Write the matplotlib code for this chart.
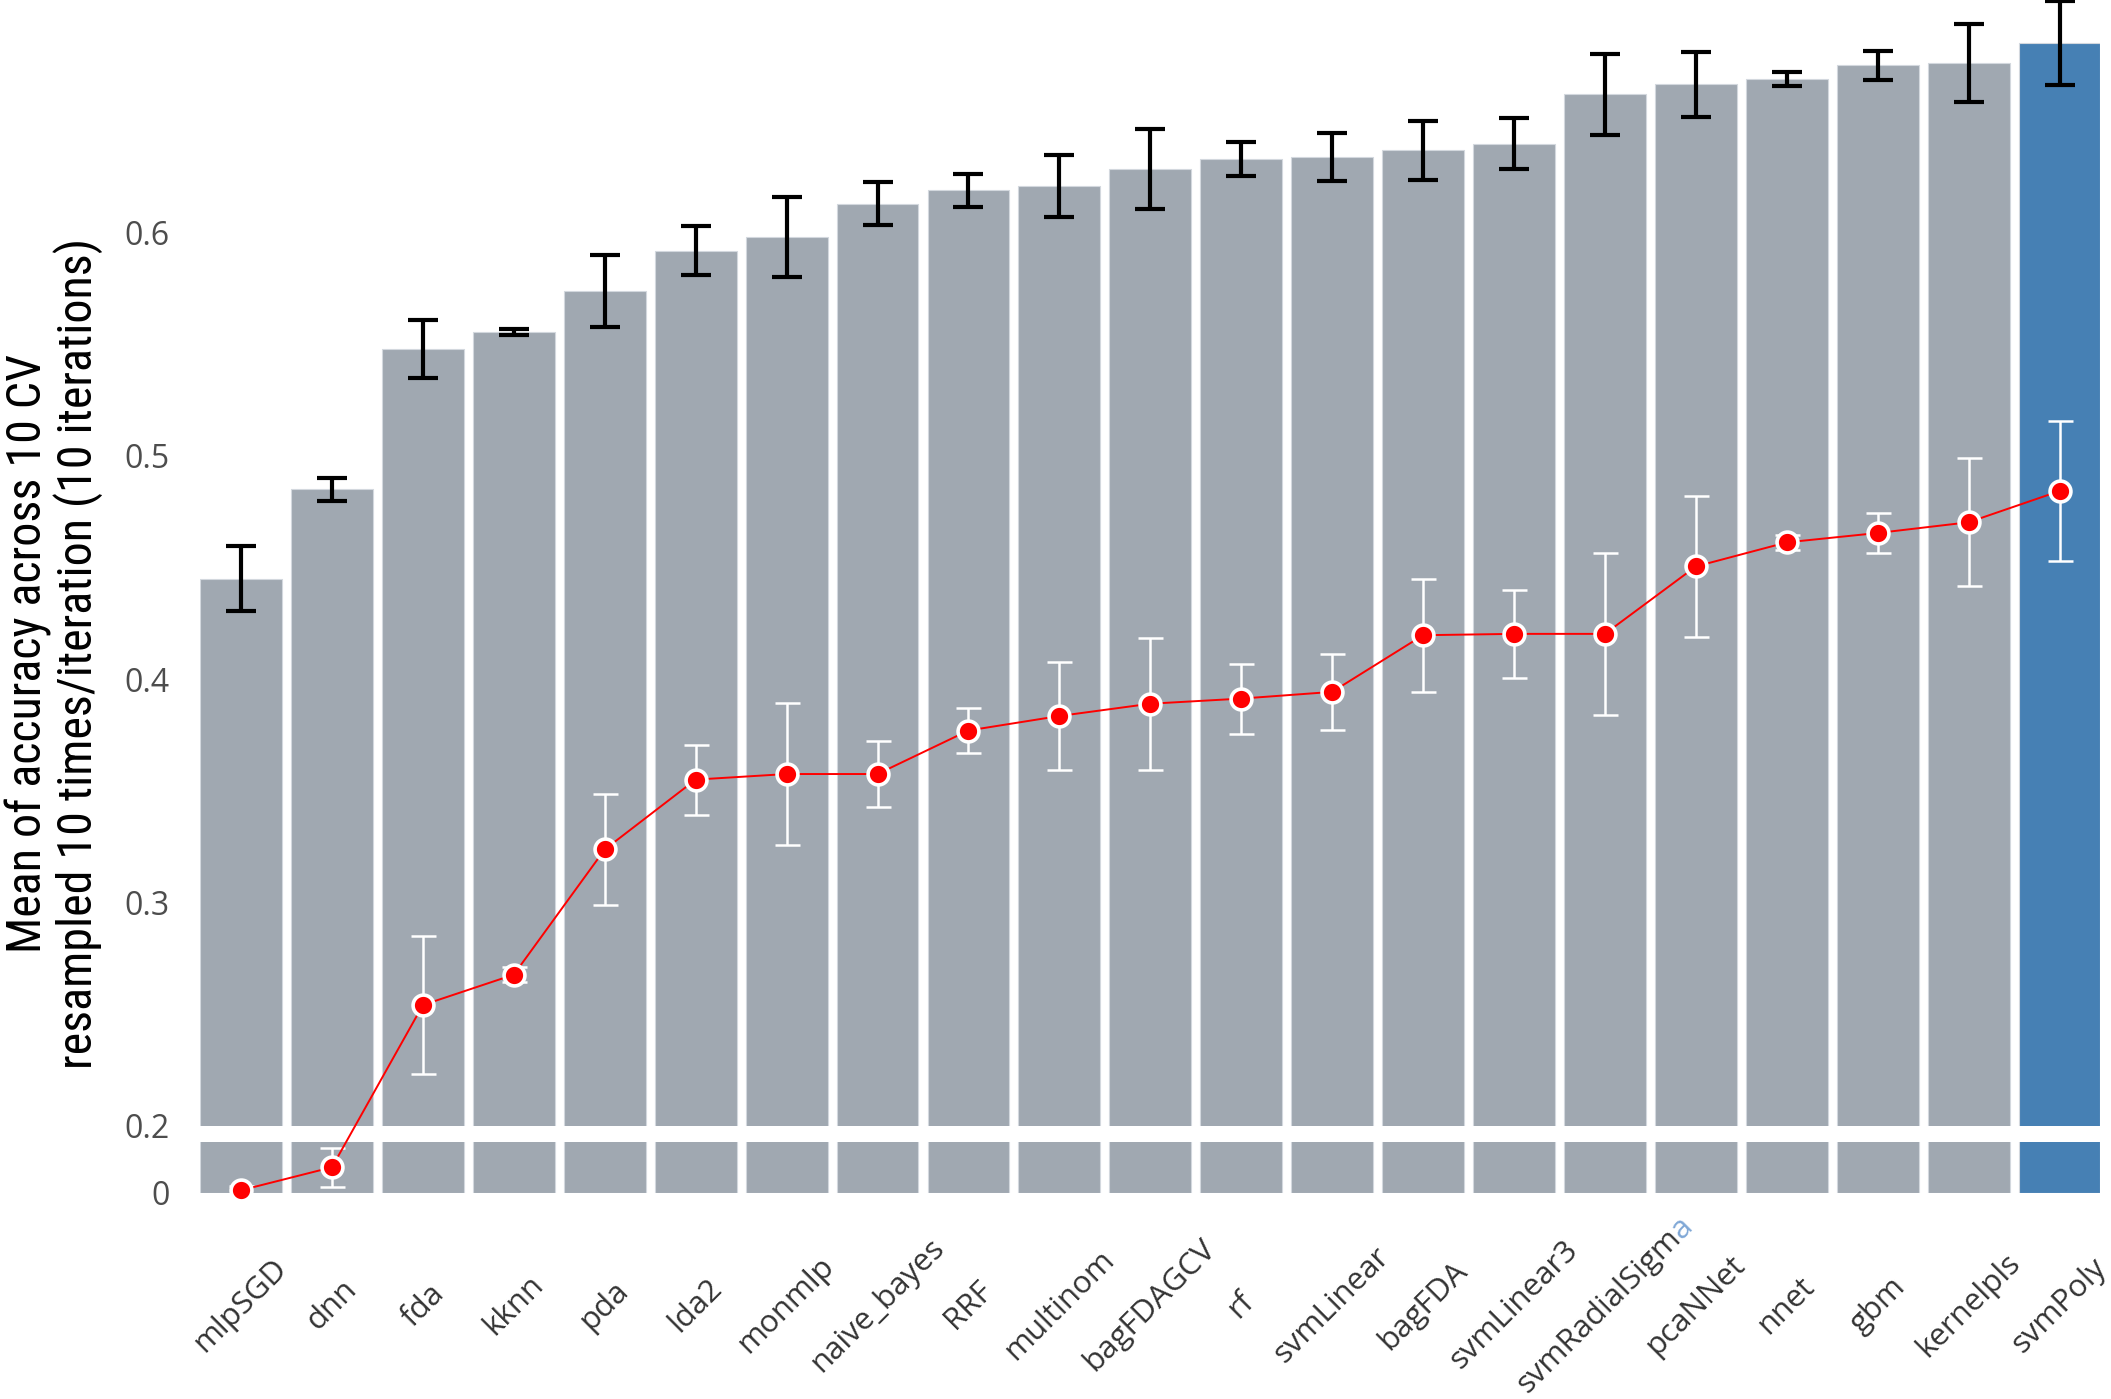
import numpy as np
import matplotlib
matplotlib.use("Agg")
import matplotlib.pyplot as plt
from matplotlib import font_manager as fm
from matplotlib.transforms import ScaledTranslation

# model names, sorted by mean accuracy
models = ['mlpSGD', 'dnn', 'fda', 'kknn', 'pda', 'lda2', 'monmlp', 'naive_bayes',
          'RRF', 'multinom', 'bagFDAGCV', 'rf', 'svmLinear', 'bagFDA', 'svmLinear3',
          'svmRadialSigma', 'pcaNNet', 'nnet', 'gbm', 'kernelpls', 'svmPoly']

# mean accuracy (bars) and its spread
accuracy = [0.445, 0.485, 0.548, 0.5555, 0.574, 0.592, 0.598, 0.613,
            0.619, 0.621, 0.6285, 0.633, 0.634, 0.637, 0.640,
            0.662, 0.6665, 0.669, 0.675, 0.676, 0.685]
accuracy_err = [0.0145, 0.005, 0.013, 0.0012, 0.016, 0.011, 0.018, 0.0097,
                0.0075, 0.014, 0.018, 0.0075, 0.0106, 0.0133, 0.0115,
                0.018, 0.0145, 0.003, 0.0066, 0.0175, 0.0187]

# second metric (red line) and its spread
kappa = [0.0012, 0.0115, 0.254, 0.2676, 0.3237, 0.355, 0.3575, 0.3575,
         0.377, 0.3835, 0.389, 0.3913, 0.3943, 0.4197, 0.4203,
         0.4203, 0.4505, 0.4613, 0.4655, 0.4703, 0.4843]
kappa_err = [0.002, 0.0088, 0.031, 0.0033, 0.0247, 0.0157, 0.0317, 0.0148,
             0.0103, 0.024, 0.0296, 0.0157, 0.0172, 0.0254, 0.0196,
             0.0362, 0.0317, 0.0033, 0.009, 0.0287, 0.0314]

yticks = [0, 0.2, 0.3, 0.4, 0.5, 0.6]
ytick_labels = ['0', '0.2', '0.3', '0.4', '0.5', '0.6']

ylabel = 'Mean of accuracy across 10 CV\nresampled 10 times/iteration (10 iterations)'

# broken y axis: 0..LOW_TOP shown, then a small gap, then BREAK upwards
LOW_TOP = 0.023
GAP = 0.0072
BREAK = 0.2


def forward(y):
    y = np.asarray(y, dtype=float)
    return np.where(y <= LOW_TOP, y,
                    np.where(y < BREAK, LOW_TOP + (y - LOW_TOP) / (BREAK - LOW_TOP) * GAP,
                             y - BREAK + LOW_TOP + GAP))


def inverse(t):
    t = np.asarray(t, dtype=float)
    return np.where(t <= LOW_TOP, t,
                    np.where(t < LOW_TOP + GAP, LOW_TOP + (t - LOW_TOP) / GAP * (BREAK - LOW_TOP),
                             t + BREAK - LOW_TOP - GAP))


def narrow_font():
    """Pick a condensed family if one is installed."""
    entries = fm.fontManager.ttflist
    names = {f.name for f in entries}
    for n in ['Liberation Sans Narrow', 'DejaVu Sans Condensed', 'Roboto Condensed',
              'Open Sans Condensed', 'Noto Sans Condensed']:
        if n in names:
            return {'family': n}
    for f in entries:
        st = str(f.stretch).lower()
        if 'condensed' in st and f.name in ('Noto Sans', 'Open Sans', 'Roboto', 'DejaVu Sans', 'Liberation Sans'):
            return {'family': f.name, 'stretch': 'condensed'}
    return {'family': 'Liberation Sans'}


fig = plt.figure(figsize=(21.11, 13.99), dpi=100)
ax = fig.add_axes([0.0948, 0.1473, 0.9002, 0.849])
ax.set_yscale('function', functions=(forward, inverse))

x = np.arange(len(models))
colors = ['#a0a8b1'] * (len(models) - 1) + ['#4680b4']
ax.bar(x, accuracy, width=0.9, color=colors, edgecolor='#d3d8de', linewidth=0.8, zorder=1)
ax.errorbar(x, accuracy, yerr=accuracy_err, fmt='none', ecolor='black',
            elinewidth=3, capsize=11, capthick=3, zorder=3, clip_on=False)

# white band for the axis break
ax.axhspan(LOW_TOP, BREAK, color='white', zorder=2, linewidth=0)

ax.errorbar(x, kappa, yerr=kappa_err, fmt='none', ecolor='white',
            elinewidth=1.8, capsize=9, capthick=1.8, zorder=4, clip_on=False)
ax.plot(x, kappa, color='red', linewidth=1.4, marker='o', markersize=15,
        markerfacecolor='red', markeredgecolor='white', markeredgewidth=2.6,
        zorder=5, clip_on=False)

ax.set_xlim(-0.45, len(models) - 0.55)
ax.set_ylim(0, 0.702)
ax.set_yticks(yticks)
ax.set_yticklabels(ytick_labels)
ax.yaxis.set_minor_locator(matplotlib.ticker.NullLocator())
ax.tick_params(axis='y', length=0, pad=22, labelsize=23, labelcolor='#4d4d4d')
for lab in ax.get_yticklabels():
    lab.set_fontfamily('Open Sans')
ax.set_xticks([])
for s in ax.spines.values():
    s.set_visible(False)

# rotated category labels, centred under each bar
label_kw = dict(rotation=45, ha='center', va='center', rotation_mode='anchor',
                fontsize=22.5, family='Open Sans')
offset = ScaledTranslation(0, -81 / 72, fig.dpi_scale_trans)
fig.canvas.draw()
r = fig.canvas.get_renderer()


def text_width(s):
    t = fig.text(0, 0, s, fontsize=22.5, family='Open Sans')
    w = t.get_window_extent(r).width
    t.remove()
    return w


for i, name in enumerate(models):
    base = ax.get_xaxis_transform() + offset
    if name != 'svmRadialSigma':
        ax.text(i, 0, name, transform=base, color='#333333', **label_kw)
        continue
    # the reference shows the last letter of this label in light blue
    w_head = text_width(name[:-1])
    w_tail = text_width(name[-1])
    d_head = -w_tail / 2 / 2 ** 0.5 / fig.dpi   # along the 45 degree baseline
    d_tail = w_head / 2 / 2 ** 0.5 / fig.dpi
    ax.text(i, 0, name[:-1], color='#333333',
            transform=base + ScaledTranslation(d_head, d_head, fig.dpi_scale_trans), **label_kw)
    ax.text(i, 0, name[-1], color='#7fa7d6',
            transform=base + ScaledTranslation(d_tail, d_tail, fig.dpi_scale_trans), **label_kw)

font = narrow_font()
yl = fig.text(0.0256, 0.533, ylabel, rotation=90, ha='center', va='center',
              multialignment='center', fontsize=35, linespacing=1.05, **font)

# shrink the label until its long side is about as long as in the reference
fig.canvas.draw()
h = yl.get_window_extent(r).height
if h > 830:
    yl.set_fontsize(35 * 830 / h)

fig.savefig('out.png', dpi=100)
